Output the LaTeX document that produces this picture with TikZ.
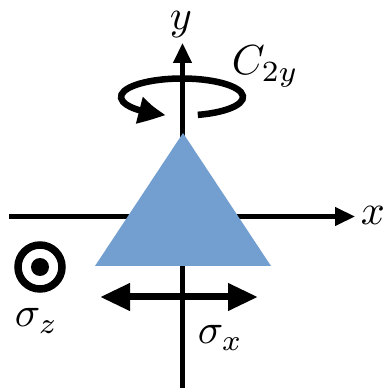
\documentclass[tikz,border=0pt]{standalone}
\usetikzlibrary{arrows.meta,bending}
\definecolor{triblue}{RGB}{114,159,207}
\begin{document}
\begin{tikzpicture}[x=1pt,y=1pt,
  axis/.style={line width=4.5pt,-{Triangle[length=20pt,width=18pt]}},
  lbl/.style={inner sep=0pt,scale=4.2},
  thick arrow/.style={line width=7pt,{Triangle[length=30pt,width=26pt]}-{Triangle[length=30pt,width=26pt]}},
  rot arrow/.style={line width=6.5pt,-{Triangle[length=29pt,width=25pt,bend]}}]
\useasboundingbox (0,0) rectangle (389,392);
% axes
\coordinate (yb) at (182.5,4);
\coordinate (yt) at (182.5,349);
\coordinate (xl) at (9,175.5);
\coordinate (xr) at (355,175.5);
\draw[axis] (yb) -- (yt);
\draw[axis] (xl) -- (xr);
\node[lbl,anchor=base] (ylab) at (181,362) {$y$};
\node[lbl,anchor=base] (xlab) at (373,167.5) {$x$};
% triangle
\fill[triblue] (183,259) -- (95,126) -- (271,126) -- cycle;
% rotation
\coordinate (rc) at (182,295);
\draw[rot arrow] ([shift={(-75:61 and 18.5)}]rc) arc[start angle=-75,end angle=255,x radius=61,y radius=18.5];
\node[lbl,anchor=base west] (c2y) at (231,317) {$C_{2y}$};
% sigma z
\coordinate (tz) at (40,125);
\draw[line width=7.5pt] (tz) circle[radius=22];
\fill (tz) circle[radius=9];
\node[lbl,anchor=base west] (sz) at (14,65) {$\sigma_z$};
% sigma x
\coordinate (sxl) at (100,95);
\coordinate (sxr) at (258,95);
\draw[thick arrow] (sxl) -- (sxr);
\node[lbl,anchor=base west] (sx) at (197,48) {$\sigma_x$};
\end{tikzpicture}
\end{document}
